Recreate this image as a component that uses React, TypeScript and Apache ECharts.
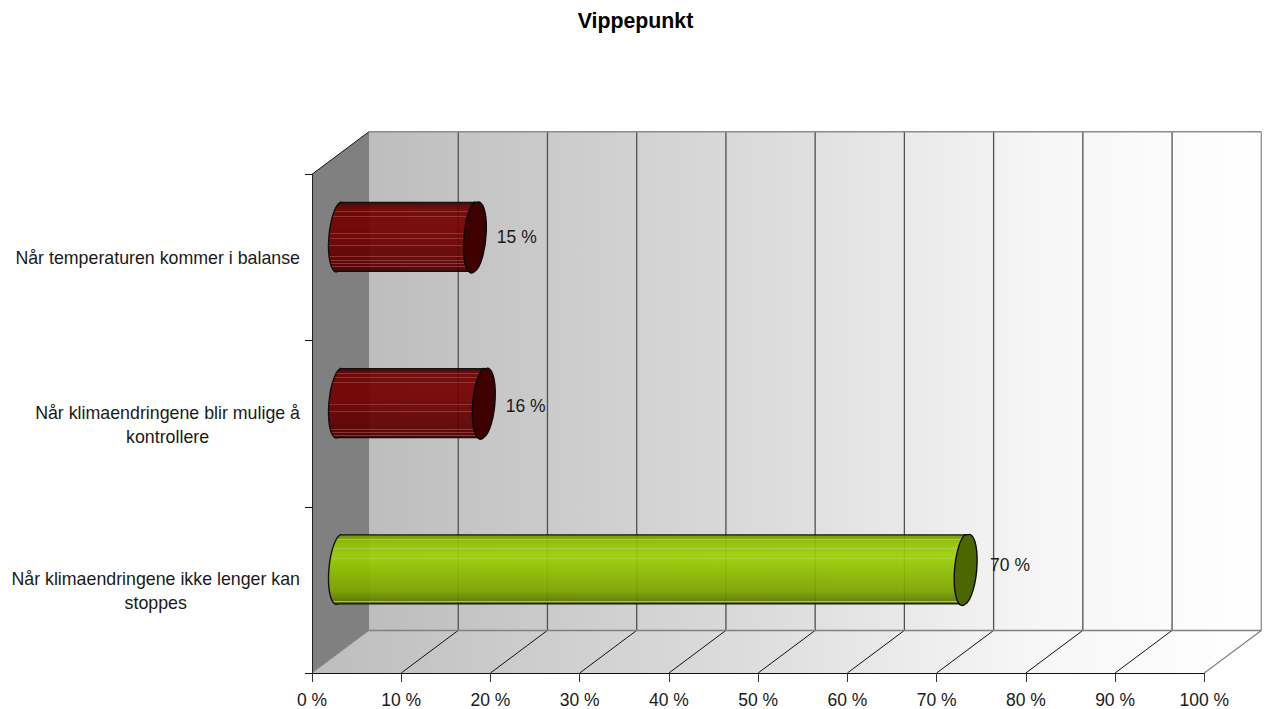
import React, { useEffect, useRef } from "react";
import * as echarts from "echarts";

const titleText = "Vippepunkt";
const categories = [
  "Når temperaturen kommer i balanse",
  "Når klimaendringene blir mulige å\nkontrollere",
  "Når klimaendringene ikke lenger kan\nstoppes",
];
const values = [15, 16, 70];
const valueLabels = ["15 %", "16 %", "70 %"];
const labelNudgeX = [-0.5, -0.5, 2];
const labelNudgeY = [0, 2, -4.5];

const redBase: [number, string][] = [
  [0, "#3c0000"], [0.04, "#560000"], [0.1, "#6e0000"], [0.3, "#760000"],
  [0.6, "#6a0000"], [0.85, "#5c0000"], [0.95, "#480000"], [1, "#380000"],
];
const greenBase: [number, string][] = [
  [0, "#6a8e00"], [0.1, "#90c000"], [0.3, "#9cd200"], [0.55, "#8cba00"],
  [0.8, "#7ea400"], [0.93, "#668000"], [1, "#506800"],
];
const stripeOffsets = [0.07, 0.13, 0.2, 0.34, 0.45, 0.52, 0.62, 0.78, 0.84, 0.88, 0.92, 0.96];
const capColors = ["#3f0000", "#3f0000", "#4c6600"];
const stripeTint = ["#8f2c2c", "#8f2c2c", "#a8ca44"];

const depthX = 57;
const depthY = -42.6;
const tubeShift = [28.5, -20.5];
const rx = 10;
const ry = 34.5;
const tiltX = 2.5;
const tiltDeg = 4.6;
const font = "Liberation Sans, Arial, sans-serif";

function colorAt(base: [number, string][], t: number) {
  for (let i = 1; i < base.length; i++) {
    const [o0, c0] = base[i - 1];
    const [o1, c1] = base[i];
    if (t <= o1) return echarts.color.lerp((t - o0) / (o1 - o0), [c0, c1]) as string;
  }
  return base[base.length - 1][1];
}

function stripedStops(base: [number, string][], tint: string) {
  const out: { offset: number; color: string }[] = [];
  const marks = [...base.map((b) => ({ o: b[0], c: b[1], s: false })), ...stripeOffsets.map((o) => ({ o, c: tint, s: true }))]
    .sort((a, b) => a.o - b.o);
  for (const m of marks) {
    if (m.s) {
      out.push({ offset: m.o - 0.004, color: colorAt(base, m.o - 0.004) });
      out.push({ offset: m.o - 0.004, color: m.c });
      out.push({ offset: m.o + 0.004, color: m.c });
      out.push({ offset: m.o + 0.004, color: colorAt(base, m.o + 0.004) });
    } else {
      out.push({ offset: m.o, color: m.c });
    }
  }
  return out;
}

function renderRoom(params: any, api: any) {
  const cs = params.coordSys;
  const top = cs.y;
  const bottom = cs.y + cs.height;
  const left = api.coord([0, 0])[0];
  const right = api.coord([100, 0])[0];
  const wallGrad = () => new echarts.graphic.LinearGradient(0, 0, 1, 0, [
    { offset: 0, color: "#bdbdbd" },
    { offset: 0.45, color: "#dcdcdc" },
    { offset: 0.75, color: "#f6f6f6" },
    { offset: 1, color: "#ffffff" },
  ]);
  const children: any[] = [
    { type: "polygon", shape: { points: [[left, top], [left + depthX, top + depthY], [left + depthX, bottom + depthY], [left, bottom]] }, style: { fill: "#808080" } },
    { type: "rect", shape: { x: left + depthX, y: top + depthY, width: right - left, height: bottom - top }, style: { fill: wallGrad() } },
    { type: "polygon", shape: { points: [[left, bottom], [right, bottom], [right + depthX, bottom + depthY], [left + depthX, bottom + depthY]] }, style: { fill: wallGrad() } },
  ];
  for (let v = 10; v <= 100; v += 10) {
    const fx = api.coord([v, 0])[0];
    const bx = fx + depthX;
    children.push({ type: "line", shape: { x1: bx, y1: top + depthY, x2: bx, y2: bottom + depthY }, style: { stroke: v === 100 ? "#8c8c8c" : "#505050", lineWidth: 1.3 } });
    children.push({ type: "line", shape: { x1: fx, y1: bottom, x2: bx, y2: bottom + depthY }, style: { stroke: v === 100 ? "#808080" : "#111111", lineWidth: v === 100 ? 1.2 : 1 } });
  }
  children.push({ type: "line", shape: { x1: left + depthX, y1: top + depthY, x2: right + depthX, y2: top + depthY }, style: { stroke: "#8c8c8c", lineWidth: 1.5 } });
  children.push({ type: "line", shape: { x1: left + depthX, y1: bottom + depthY, x2: right + depthX, y2: bottom + depthY }, style: { stroke: "#808080", lineWidth: 1.5 } });
  children.push({ type: "line", shape: { x1: left, y1: top, x2: left + depthX, y2: top + depthY }, style: { stroke: "#111111", lineWidth: 1 } });
  children.push({ type: "line", shape: { x1: left, y1: bottom, x2: left + depthX, y2: bottom + depthY }, style: { stroke: "#8a8a8a", lineWidth: 1 } });
  return { type: "group", children };
}

function renderTube(_p: any, api: any) {
  const idx = api.value(1);
  const start = api.coord([0, idx]);
  const end = api.coord([api.value(0), idx]);
  const y = start[1] + tubeShift[1];
  const x0 = start[0] + tubeShift[0];
  const x1 = end[0] + tubeShift[0];
  const grad = new echarts.graphic.LinearGradient(0, 0, 0, 1,
    stripedStops(idx === 2 ? greenBase : redBase, stripeTint[idx]));
  const body = `M ${x0 + tiltX} ${y - ry} L ${x1 + tiltX} ${y - ry} L ${x1 - tiltX} ${y + ry} L ${x0 - tiltX} ${y + ry} ` +
    `A ${rx} ${ry} ${tiltDeg} 0 1 ${x0 + tiltX} ${y - ry} Z`;
  const cap = `M ${x1 + tiltX} ${y - ry} A ${rx} ${ry} ${tiltDeg} 0 1 ${x1 - tiltX} ${y + ry} A ${rx} ${ry} ${tiltDeg} 0 1 ${x1 + tiltX} ${y - ry} Z`;
  return {
    type: "group",
    children: [
      { type: "path", shape: { pathData: body }, style: { fill: grad, stroke: "#0a0a0a", lineWidth: 1.4, opacity: 0.93 } },
      { type: "path", shape: { pathData: cap }, style: { fill: capColors[idx], stroke: "#0a0a0a", lineWidth: 1.4 } },
      {
        type: "text",
        x: x1 + 23 + labelNudgeX[idx],
        y: y + 0.5 + labelNudgeY[idx],
        style: { text: valueLabels[idx], fontFamily: font, fontSize: 17.5, fill: "#1a1a1a", align: "left", verticalAlign: "middle" },
      },
    ],
  };
}

export default function App() {
  const ref = useRef<HTMLDivElement>(null);
  useEffect(() => {
    const chart = echarts.init(ref.current!, undefined, { renderer: "svg" });
    chart.setOption({
      animation: false,
      backgroundColor: "#ffffff",
      title: {
        text: titleText,
        left: 630.5,
        top: 5,
        textAlign: "center",
        textStyle: { fontFamily: font, fontSize: 21.3, fontWeight: "bold", color: "#000000" },
      },
      grid: { left: 312, right: 59.7, top: 174.3, bottom: 35.7 },
      xAxis: {
        type: "value",
        min: 0,
        max: 100,
        interval: 10,
        z: 5,
        splitLine: { show: false },
        axisLine: { show: true, lineStyle: { color: "#111111", width: 1 } },
        axisTick: { show: true, length: 9, lineStyle: { color: "#333333" } },
        axisLabel: { formatter: "{value} %", margin: 18, fontFamily: font, fontSize: 17.5, color: "#1a1a1a" },
      },
      yAxis: {
        type: "category",
        inverse: true,
        data: categories,
        z: 5,
        splitLine: { show: false },
        axisLine: { show: true, lineStyle: { color: "#222222", width: 1 } },
        axisTick: { show: true, length: 7, lineStyle: { color: "#111111" } },
        axisLabel: {
          margin: 12,
          align: "right",
          fontFamily: font,
          fontSize: 17.8,
          color: "#1a1a1a",
          lineHeight: 24,
          padding: [2, 0, 0, 0],
          formatter: (v: string) => v.split("\n").map((s) => `{c|${s}}`).join("\n"),
          rich: { c: { align: "center", fontFamily: font, fontSize: 17.8, color: "#1a1a1a", lineHeight: 24 } },
        },
      },
      series: [
        { type: "custom", z: 1, silent: true, clip: false, coordinateSystem: "cartesian2d", renderItem: renderRoom, data: [[0, 0]] },
        {
          type: "custom",
          z: 6,
          clip: false,
          coordinateSystem: "cartesian2d",
          renderItem: renderTube,
          encode: { x: 0, y: 1 },
          data: values.map((v, i) => [v, i]),
        },
      ],
    });
    return () => chart.dispose();
  }, []);
  return <div ref={ref} style={{ position: "fixed", left: 0, top: 0, width: 1264, height: 709 }} />;
}
